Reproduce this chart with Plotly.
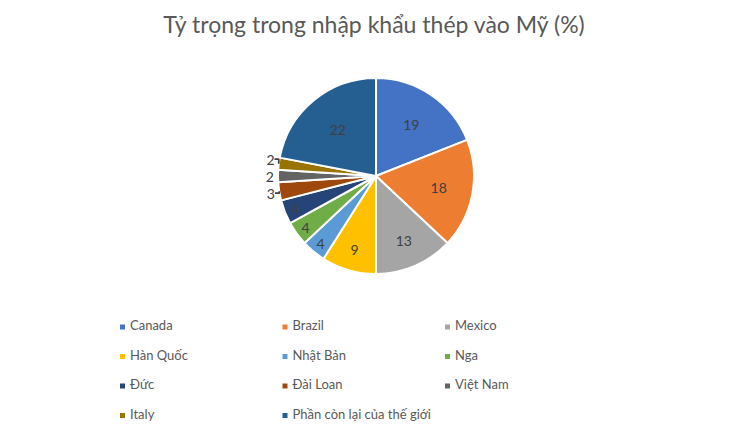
import plotly.graph_objects as go

# Tỷ trọng trong nhập khẩu thép vào Mỹ (%)
countries = ["Canada", "Brazil", "Mexico", "Hàn Quốc", "Nhật Bản", "Nga",
             "Đức", "Đài Loan", "Việt Nam", "Italy", "Phần còn lại của thế giới"]
shares = [19, 18, 13, 9, 4, 4, 4, 3, 2, 2, 22]
colors = ["#4472C4", "#ED7D31", "#A5A5A5", "#FFC000", "#5B9BD5", "#70AD47",
          "#264478", "#9E480E", "#636363", "#997300", "#255E91"]
label_pos = ["inside"] * 7 + ["outside"] * 3 + ["inside"]

W, H = 748, 431
FONT = "Lato, 'Open Sans', sans-serif"

fig = go.Figure()

# pie: centre ~ (376, 176) px, radius ~ 98 px
cx, cy, r = 376, 176, 98
fig.add_trace(go.Pie(
    labels=countries, values=shares, sort=False, direction="clockwise", rotation=0,
    marker=dict(colors=colors, line=dict(color="white", width=2)),
    textinfo="value", textposition=label_pos, insidetextorientation="horizontal",
    textfont=dict(size=14, color="#404040", family=FONT),
    outsidetextfont=dict(size=14, color="#404040", family=FONT),
    domain=dict(x=[(cx - r) / W, (cx + r) / W], y=[1 - (cy + r) / H, 1 - (cy - r) / H]),
    showlegend=False, hoverinfo="label+value",
))

# legend drawn as a 3-column grid: square markers plus text just to their right
x0, dx = 122.5, 162.5   # px of first column, column spacing
y0, dy = 327, 29.5      # px of first row, row spacing
gap = 7.5 / dx          # marker centre -> text start
cols = [i % 3 for i in range(len(countries))]
rows = [i // 3 for i in range(len(countries))]
fig.add_trace(go.Scatter(
    x=cols, y=rows, mode="markers",
    marker=dict(symbol="square", size=5, color=colors),
    showlegend=False, hoverinfo="skip", cliponaxis=False,
))
fig.add_trace(go.Scatter(
    x=[c + gap for c in cols], y=rows, mode="text", text=countries, textposition="middle right",
    textfont=dict(size=13, color="#595959", family=FONT),
    showlegend=False, hoverinfo="skip", cliponaxis=False,
))

fig.update_layout(
    width=W, height=H,
    margin=dict(l=0, r=0, t=0, b=0),
    paper_bgcolor="white", plot_bgcolor="rgba(0,0,0,0)",
    font=dict(family=FONT, color="#595959"),
    title=dict(text="Tỷ trọng trong nhập khẩu thép vào Mỹ (%)", x=0.5, xanchor="center",
               y=1 - 25 / H, yanchor="middle", font=dict(size=23, color="#595959", family=FONT)),
    xaxis=dict(domain=[0, 1], range=[(0 - x0) / dx, (W - x0) / dx], visible=False, fixedrange=True),
    yaxis=dict(domain=[0, 1], range=[(H - y0) / dy, (0 - y0) / dy], visible=False, fixedrange=True),
)

fig.write_html("out.html", config={"displayModeBar": False},
               post_script="document.body.style.margin='0';")
